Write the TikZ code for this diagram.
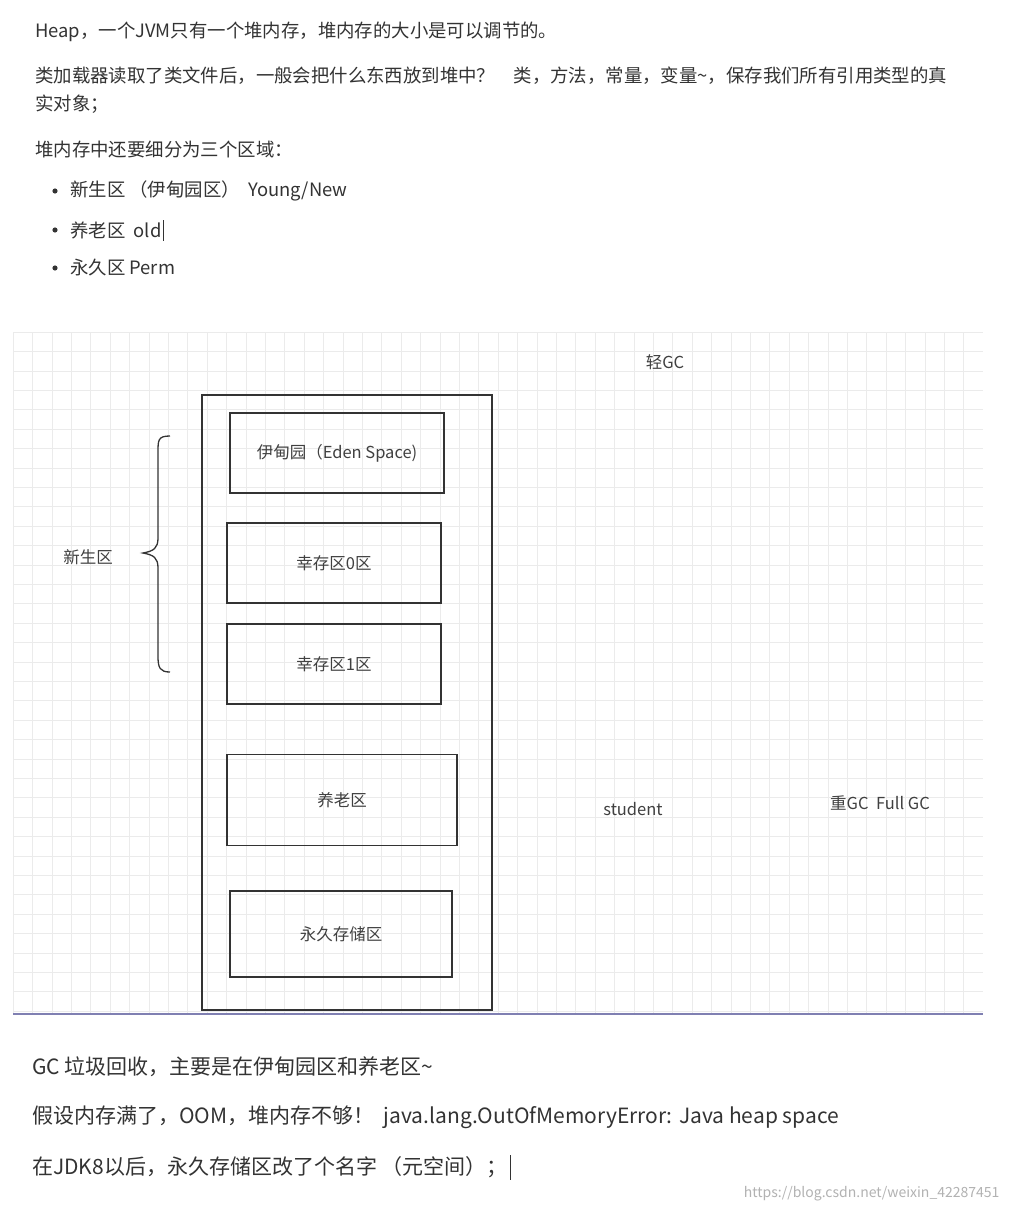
\documentclass[tikz,border=0pt]{standalone}
\usepackage{fontspec}
\setmainfont{Noto Sans CJK SC}
\begin{document}
\begin{tikzpicture}[x=1pt,y=-1pt,
  txt/.style={anchor=west,font=\fontsize{18.4}{20}\selectfont,text=black!80,inner sep=0},
  ftxt/.style={anchor=west,font=\fontsize{21}{24}\selectfont,text=black!80,inner sep=0},
  box/.style={draw=black!80,line width=1.3pt,inner sep=0},
  lbl/.style={font=\fontsize{16.5}{18}\selectfont,text=black!75,inner sep=0}]
\useasboundingbox (0,0) rectangle (1009,1212);
\fill[white] (0,0) rectangle (1009,1212);
% grid
\foreach \i in {0,...,49} {\draw[black!8,line width=0.6pt] ({13+\i*19.4},332) -- ({13+\i*19.4},1013);}
\foreach \i in {0,...,35} {\draw[black!8,line width=0.6pt] (13,{332+\i*19.4}) -- (983,{332+\i*19.4});}
\draw[blue!40!black!50,line width=1.5pt] (13,1014) -- (983,1014);
% header text
\node[txt] (t1) at (35,32) {Heap，一个JVM只有一个堆内存，堆内存的大小是可以调节的。};
\node[txt] (t2) at (35,76) {类加载器读取了类文件后，一般会把什么东西放到堆中？\quad 类，方法，常量，变量\textasciitilde，保存我们所有引用类型的真};
\node[txt] (t3) at (35,104) {实对象；};
\node[txt] (t4) at (35,149) {堆内存中还要细分为三个区域：};
\node[txt] (b1) at (70,191) {新生区 （伊甸园区）\ \ Young/New};
\node[txt] (b2) at (70,230) {养老区\ \ old};
\draw[black!80] (163,220) -- (163,241);
\node[txt] (b3) at (70,268) {永久区 Perm};
\foreach \y in {191,230,268} \fill[black!80] (55,\y) circle (2.6pt);
% heap
\draw[box] (202,395) rectangle (492,1010);
\node[box,minimum width=214,minimum height=80,lbl] (eden) at (337,453) {伊甸园（Eden Space)};
\node[box,minimum width=214,minimum height=80,lbl] (s0) at (334,563) {幸存区0区};
\node[box,minimum width=214,minimum height=80,lbl] (s1) at (334,664) {幸存区1区};
\node[box,minimum width=230,minimum height=91,lbl] (old) at (342,800) {养老区};
\node[box,minimum width=222,minimum height=86,lbl] (perm) at (341,934) {永久存储区};
\draw[black!80,line width=1.3pt] (170,436) .. controls (158,436) and (158,440) .. (158,452) -- (158,538) .. controls (158,548) and (154,551) .. (143,553) .. controls (154,555) and (158,558) .. (158,568) -- (158,656) .. controls (158,668) and (160,672) .. (170,672);
\node[lbl] (xs) at (88,557) {新生区};
\node[lbl] (qgc) at (665,362) {轻GC};
\node[lbl] (stu) at (633,809) {student};
\node[lbl] (zgc) at (880,803) {重GC\ \ Full GC};
% footer
\node[ftxt] (f1) at (32,1067) {GC 垃圾回收，主要是在伊甸园区和养老区\textasciitilde};
\node[ftxt] (f2) at (32,1117) {假设内存满了，OOM，堆内存不够！\ \ java.lang.OutOfMemoryError: Java heap space};
\node[ftxt] (f3) at (32,1167) {在JDK8以后，永久存储区改了个名字 （元空间）；};
\draw[black!80] (510,1155) -- (510,1180);
\node[anchor=east,font=\fontsize{14}{15}\selectfont,text=black!30] (wm) at (1003,1194) {https://blog.csdn.net/weixin\_42287451};
\end{tikzpicture}
\end{document}
